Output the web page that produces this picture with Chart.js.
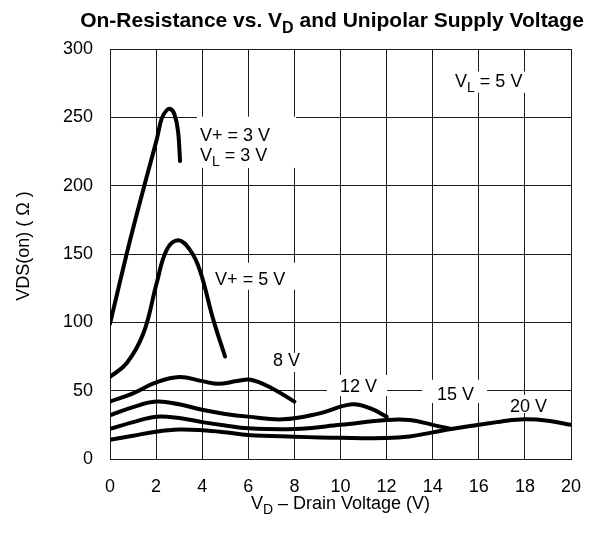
<!DOCTYPE html>
<html>
<head>
<meta charset="utf-8">
<script src="https://cdn.jsdelivr.net/npm/chart.js@4.4.1/dist/chart.umd.min.js"></script>
<style>
  html, body { margin: 0; padding: 0; background: #fff; }
  #wrap { width: 600px; height: 534px; }
</style>
</head>
<body>
<div id="wrap"><canvas id="chart" width="600" height="534"></canvas></div>
<script>
// drain voltage (V) / on-resistance (ohm), one pair per supply
const vd3 = [0, 0.87, 1.52, 2.03, 2.24, 2.45, 2.63, 2.8, 2.95, 3.04];
const ron3 = [99, 160, 202, 234, 249, 255, 256, 252, 240, 218];

const vd5 = [0, 0.72, 1.45, 2.03, 2.46, 2.96, 3.47, 3.9, 4.48, 4.99];
const ron5 = [60, 70, 92, 129, 153, 160, 153, 138, 102, 75];

const vd8 = [0, 1, 2, 3, 4, 4.7, 5.5, 6.1, 7, 8];
const ron8 = [42, 48, 56, 60, 57, 55, 57, 58, 52, 42];

const vd12 = [0, 1, 2, 3, 4, 5, 6, 7.5, 9, 10.5, 11.3, 12];
const ron12 = [32, 38, 42, 40, 36, 33, 31, 29, 33, 40, 37, 31];

const vd15 = [0, 1, 2, 3, 4, 5, 6, 8, 10, 12, 13, 14, 14.8];
const ron15 = [22, 27, 31, 30, 27, 24.5, 22.5, 22, 25, 28.5, 28.5, 25, 22];

const vd20 = [0, 1, 2, 3, 4, 5, 6, 8, 10, 12, 13, 14, 14.8, 16, 17, 18, 19, 20];
const ron20 = [14, 17, 20, 21.5, 21, 19.5, 17.5, 16.3, 15.5, 15.3, 16.5, 19.5, 22, 25, 27.5, 29, 28, 25];

const xTicks = [0, 2, 4, 6, 8, 10, 12, 14, 16, 18, 20];
const yTicks = [0, 50, 100, 150, 200, 250, 300];

// curve labels: anchor in data units, white box [x0, x1, y0, y1] in data units
const notes = [
  { x: 3.9, y: 233, parts: ['V+ = 3 V'], box: [3.77, 8.07, 213, 250.5] },
  { x: 3.9, y: 218, parts: ['V', 'L', ' = 3 V'] },
  { x: 4.56, y: 127.5, parts: ['V+ = 5 V'], box: [4.2, 8.07, 123.8, 143.6] },
  { x: 7.07, y: 68, parts: ['8 V'], box: [6.85, 8.24, 63.7, 77.6] },
  { x: 9.98, y: 49, parts: ['12 V'], box: [9.41, 12.02, 46, 61.5] },
  { x: 14.19, y: 43.2, parts: ['15 V'], box: [13.54, 16.36, 41, 58] },
  { x: 17.35, y: 34.4, parts: ['20 V'], box: [17.1, 19.1, 33.7, 47] },
  { x: 14.97, y: 272.5, parts: ['V', 'L', ' = 5 V'], box: [14.75, 18.09, 268, 283.5] }
];

const FONT = '"Liberation Sans", Arial, sans-serif';

function pts(xs, ys) {
  return xs.map((x, i) => ({ x: x, y: ys[i] }));
}

// draws main + subscript + rest
function drawSub(ctx, parts, x, y, size, bold) {
  const w = bold ? 'bold ' : '';
  ctx.font = w + size + 'px ' + FONT;
  ctx.fillText(parts[0], x, y);
  let cx = x + ctx.measureText(parts[0]).width;
  if (parts.length > 1) {
    ctx.font = w + Math.round(size * 0.78) + 'px ' + FONT;
    ctx.fillText(parts[1], cx, y + size * 0.28);
    cx += ctx.measureText(parts[1]).width;
    ctx.font = w + size + 'px ' + FONT;
    ctx.fillText(parts[2], cx, y);
  }
}

function subWidth(ctx, parts, size, bold) {
  const w = bold ? 'bold ' : '';
  ctx.save();
  ctx.font = w + size + 'px ' + FONT;
  let width = ctx.measureText(parts[0]).width;
  if (parts.length > 1) {
    width += ctx.measureText(parts[2]).width;
    ctx.font = w + Math.round(size * 0.78) + 'px ' + FONT;
    width += ctx.measureText(parts[1]).width;
  }
  ctx.restore();
  return width;
}

const notesPlugin = {
  id: 'notes',
  beforeDatasetsDraw(chart) {
    const { ctx, scales: { x, y } } = chart;
    ctx.save();
    ctx.fillStyle = '#fff';
    notes.forEach(n => {
      if (!n.box) return;
      const x0 = x.getPixelForValue(n.box[0]), x1 = x.getPixelForValue(n.box[1]);
      const y0 = y.getPixelForValue(n.box[3]), y1 = y.getPixelForValue(n.box[2]);
      ctx.fillRect(x0, y0, x1 - x0, y1 - y0);
    });
    ctx.restore();
  },
  afterDatasetsDraw(chart) {
    const { ctx, scales: { x, y } } = chart;
    ctx.save();
    ctx.fillStyle = '#000';
    ctx.textBaseline = 'alphabetic';
    ctx.textAlign = 'left';
    notes.forEach(n => {
      drawSub(ctx, n.parts, x.getPixelForValue(n.x), y.getPixelForValue(n.y), 18, false);
    });
    ctx.restore();
  },
  afterDraw(chart) {
    const { ctx, chartArea } = chart;
    ctx.save();
    ctx.fillStyle = '#000';
    ctx.textBaseline = 'alphabetic';
    ctx.textAlign = 'left';
    // title
    const tParts = ['On-Resistance vs. V', 'D', ' and Unipolar Supply Voltage'];
    const tw = subWidth(ctx, tParts, 21, true);
    drawSub(ctx, tParts, 332 - tw / 2, 27, 21, true);
    // x axis title
    const xParts = ['V', 'D', ' \u2013 Drain Voltage (V)'];
    const xw = subWidth(ctx, xParts, 18, false);
    drawSub(ctx, xParts, (chartArea.left + chartArea.right) / 2 - xw / 2, 509, 18, false);
    // y axis title
    ctx.translate(29, 246);
    ctx.rotate(-Math.PI / 2);
    ctx.font = '18px ' + FONT;
    ctx.textAlign = 'center';
    ctx.fillText('VDS(on) ( \u03A9 )', 0, 0);
    ctx.restore();
  }
};

const lineStyle = {
  borderColor: '#000',
  borderWidth: 4,
  pointRadius: 0,
  fill: false,
  showLine: true,
  tension: 0.4,
  borderCapStyle: 'round',
  borderJoinStyle: 'round'
};

new Chart(document.getElementById('chart'), {
  type: 'scatter',
  data: {
    datasets: [
      Object.assign({ label: 'V+ = 3 V', data: pts(vd3, ron3) }, lineStyle),
      Object.assign({ label: 'V+ = 5 V', data: pts(vd5, ron5) }, lineStyle),
      Object.assign({ label: '8 V', data: pts(vd8, ron8) }, lineStyle),
      Object.assign({ label: '12 V', data: pts(vd12, ron12) }, lineStyle),
      Object.assign({ label: '15 V', data: pts(vd15, ron15) }, lineStyle),
      Object.assign({ label: '20 V', data: pts(vd20, ron20) }, lineStyle)
    ]
  },
  options: {
    responsive: false,
    animation: false,
    layout: { padding: { top: 49, right: 29, bottom: 0, left: 0 } },
    plugins: { legend: { display: false }, tooltip: { enabled: false } },
    scales: {
      x: {
        type: 'linear', min: 0, max: 20,
        afterBuildTicks: s => { s.ticks = xTicks.map(v => ({ value: v })); },
        afterFit: s => { s.height = 75; },
        grid: { color: '#1a1a1a', lineWidth: 1, drawTicks: false },
        border: { color: '#1a1a1a', width: 1 },
        ticks: { color: '#000', padding: 17, maxRotation: 0, font: { family: FONT, size: 18 } }
      },
      y: {
        type: 'linear', min: 0, max: 300,
        afterBuildTicks: s => { s.ticks = yTicks.map(v => ({ value: v })); },
        afterFit: s => { s.width = 110; },
        grid: { color: '#1a1a1a', lineWidth: 1, drawTicks: false },
        border: { color: '#1a1a1a', width: 1 },
        ticks: { color: '#000', padding: 17, font: { family: FONT, size: 18 } }
      }
    }
  },
  plugins: [notesPlugin]
});
</script>
</body>
</html>
